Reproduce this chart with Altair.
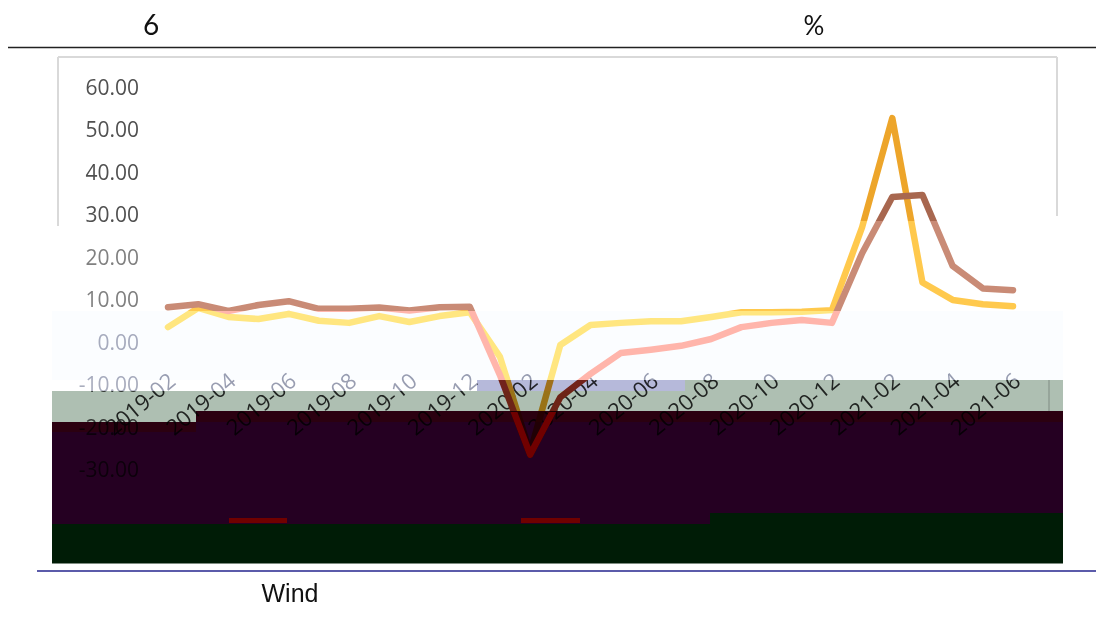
import altair as alt
import pandas as pd

months = ["2019-02","2019-03","2019-04","2019-05","2019-06","2019-07","2019-08","2019-09","2019-10","2019-11","2019-12",
          "2020-01","2020-02","2020-03","2020-04","2020-05","2020-06","2020-07","2020-08","2020-09","2020-10","2020-11","2020-12",
          "2021-01","2021-02","2021-03","2021-04","2021-05","2021-06"]
series_a = [3.5,8.0,5.9,5.4,6.6,5.0,4.5,6.1,4.7,6.1,7.0,-3.5,-26.0,-0.7,4.0,4.5,4.9,4.9,5.9,7.0,7.0,7.1,7.5,27.0,52.7,14.0,9.9,8.9,8.4]
series_b = [8.2,8.9,7.3,8.7,9.6,7.8,7.8,8.1,7.4,8.2,8.3,-7.8,-26.5,-13.0,-7.5,-2.6,-1.8,-0.9,0.7,3.5,4.5,5.2,4.5,20.9,34.1,34.6,17.9,12.6,12.2]
y_ticks = [60,50,40,30,20,10,0,-10,-20,-30]
y_labels = ["60.00","50.00","40.00","30.00","20.00","10.00","0.00","-10.00","-20.00","-30.00"]
x_labels = months[::2]

OX, OY = 8, 8
def px(v): return 342 - 4.25 * v

xscale = alt.Scale(domain=months, range=[168 - OX, 1013 - OX], padding=0)
yscale = alt.Scale(domain=[-50, 70], range=[px(-50) - OY, px(70) - OY], nice=False, zero=False)
X = alt.X("month:O", scale=xscale, axis=None)
Y = alt.Y("v:Q", scale=yscale, axis=None)
one = alt.Data(values=[{"a": 1}])

def rect(x1, x2, y1, y2, color, blend):
    return alt.Chart(one).mark_rect(color=color, opacity=1, blend=blend).encode(
        x=alt.value(x1 - OX), x2=alt.value(x2 - OX), y=alt.value(y1 - OY), y2=alt.value(y2 - OY))

def hrule(x1, x2, y, color, w):
    return alt.Chart(one).mark_rule(color=color, strokeWidth=w).encode(
        x=alt.value(x1 - OX), x2=alt.value(x2 - OX), y=alt.value(y - OY))

def vrule(x, y1, y2, color, w):
    return alt.Chart(one).mark_rule(color=color, strokeWidth=w).encode(
        x=alt.value(x - OX), y=alt.value(y1 - OY), y2=alt.value(y2 - OY))

def note(s, x, y, size, font):
    return alt.Chart(one).mark_text(text=s, fontSize=size, font=font, color="#111111", align="center", baseline="middle").encode(
        x=alt.value(x - OX), y=alt.value(y - OY))

def grad(values, bands):
    top, bot = px(max(values)), px(min(values))
    stops, prev = [], 0.0
    for edge, col in bands:
        f = min(max((edge - top) / (bot - top), 0), 1)
        stops.append(alt.GradientStop(offset=prev, color=col))
        stops.append(alt.GradientStop(offset=f, color=col))
        prev = f
    return alt.Gradient(gradient="linear", x1=0, x2=0, y1=0, y2=1, stops=stops)

def line(values, color):
    df = pd.DataFrame({"month": months, "v": values})
    return alt.Chart(df).mark_line(color=color, strokeWidth=6.5, strokeCap="round", strokeJoin="round", clip=False).encode(x=X, y=Y)

df_y = pd.DataFrame({"v": y_ticks, "label": y_labels})
df_x = pd.DataFrame({"month": x_labels})
FONT = "Open Sans"
y_text = alt.Chart(df_y).mark_text(align="right", baseline="middle", fontSize=21, font=FONT, color="#505050", dy=1.5).encode(
    x=alt.value(139 - OX), y=Y, text="label:N")
x_text = alt.Chart(df_x).mark_text(align="right", baseline="middle", fontSize=22, font=FONT, color="#303030", angle=320, dx=6).encode(
    x=X, y=alt.value(382 - OY), text="month:N")

line_a = line(series_a, grad(series_a, [(221, "#EDA52A"), (311, "#FFC94D"), (380, "#FFE680"), (700, "#E09A20")]))
line_b = line(series_b, grad(series_b, [(221, "#A8674F"), (311, "#C98B76"), (380, "#FFB5AB"), (700, "#A03020")]))
clear = "rgba(110,0,0,0)"
line_v = line(series_b, grad(series_b, [(412, clear), (700, "#700000")]))

layers = [
    y_text, x_text,
    rect(0, 1104, 226, 311, "#464646", "screen"),
    rect(0, 1104, 311, 380, "#82879F", "screen"),
    rect(0, 477, 380, 391, "#82879F", "screen"),
    rect(52, 1063, 311, 380, "#FBFDFF", "multiply"),
    hrule(58, 1057, 57, "#D9D9D9", 2),
    vrule(58, 57, 226, "#D9D9D9", 2),
    vrule(1057, 57, 216, "#D9D9D9", 2),
    line_a, line_b,
    rect(52, 477, 391, 411, "#AEBFB2", "multiply"),
    rect(477, 685, 391, 411, "#AEBFB2", "multiply"),
    rect(477, 685, 380, 391, "#B6B9DA", "multiply"),
    rect(685, 1063, 380, 411, "#AEBFB2", "multiply"),
    rect(52, 196, 411, 422, "#AEBFB2", "multiply"),
    vrule(1049, 380, 411, "#8E9C92", 1.5),
    rect(196, 1063, 411, 422, "#2B0010", "multiply"),
    rect(52, 196, 422, 432, "#2B0010", "multiply"),
    rect(196, 1063, 422, 432, "#250022", "multiply"),
    rect(52, 1063, 432, 513, "#250022", "multiply"),
    rect(52, 710, 513, 524, "#250022", "multiply"),
    rect(710, 1063, 513, 524, "#001C06", "multiply"),
    rect(52, 1063, 524, 563.5, "#001C06", "multiply"),
    line_v,
    hrule(229, 287, 520.5, "#700000", 5),
    hrule(521, 580, 520.5, "#700000", 5),
    hrule(7, 1102, 47.5, "#222222", 1.5),
    hrule(37, 1102, 571, "#5B5BAA", 2),
    note("6", 151, 27, 28, "Lato"),
    note("%", 814, 27, 26, "Lato"),
    note("Wind", 290, 594, 25, "Liberation Sans"),
]

chart = alt.layer(*layers).properties(
    width=1088, height=602, padding=0, background="white",
    autosize=alt.AutoSizeParams(type="none"),
).configure_view(stroke=None)

chart.save("out.html", embed_options={"renderer": "svg", "actions": False})
